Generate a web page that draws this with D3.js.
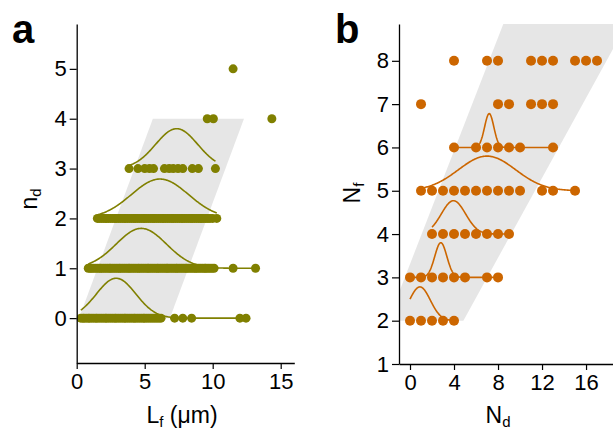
<!DOCTYPE html>
<html>
<head>
<meta charset="utf-8">
<script src="https://cdn.jsdelivr.net/npm/d3@7"></script>
<style>
  body { margin: 0; background: #fff; }
  svg text { font-family: "Liberation Sans", Arial, sans-serif; fill: #000; }
</style>
</head>
<body>
<svg id="chart" width="613" height="432"></svg>
<script>
// panel a: fibre length L_f vs number of defects n_d
const ndLevels = [0, 1, 2, 3, 4, 5];
const lfRows = [
  [0.3,0.45,0.55,0.7,0.85,0.95,1.1,1.25,1.4,1.5,1.65,1.8,1.95,2.1,2.2,2.35,2.5,2.65,2.8,2.9,3.05,3.2,3.35,3.5,3.6,3.75,3.9,4.05,4.2,4.3,4.45,4.6,4.75,4.9,5.0,5.15,5.3,5.45,5.6,5.75,5.9,6.05,6.2,7.2,7.8,8.45,12.0,12.45],
  [0.85,1.0,1.1,1.25,1.4,1.55,1.7,1.8,1.95,2.1,2.25,2.4,2.5,2.65,2.8,2.95,3.1,3.2,3.35,3.5,3.65,3.8,3.9,4.05,4.2,4.35,4.5,4.6,4.75,4.9,5.05,5.2,5.3,5.45,5.6,5.75,5.9,6.0,6.15,6.3,6.45,6.6,6.7,6.85,7.0,7.15,7.3,7.4,7.55,7.7,7.85,8.0,8.1,8.25,8.4,8.55,8.7,8.8,8.95,9.1,9.25,9.4,9.5,9.65,9.8,9.95,10.1,11.5,13.15],
  [1.52,1.65,1.8,1.95,2.1,2.2,2.35,2.5,2.65,2.8,2.9,3.05,3.2,3.35,3.5,3.6,3.75,3.9,4.05,4.2,4.3,4.45,4.6,4.75,4.9,5.0,5.15,5.3,5.45,5.6,5.7,5.85,6.0,6.15,6.3,6.4,6.55,6.7,6.85,7.0,7.1,7.25,7.4,7.55,7.7,7.8,7.95,8.1,8.25,8.4,8.5,8.65,8.8,8.95,9.1,9.2,9.35,9.5,9.65,9.8,10.0,10.3],
  [3.85,4.5,5.0,5.35,5.65,6.45,6.8,7.1,7.45,7.8,8.5,8.95,10.2],
  [9.6,10.05,14.35],
  [11.5]
];
// gaussian fits (rows 0-3)
const fitARows = [0, 1, 2, 3];
const fitACenter = [2.9, 4.75, 6.12, 7.35];
const fitASigma = [1.45, 1.85, 2.1, 1.55];
const fitAAmp = [0.8, 0.8, 0.79, 0.8];
// shaded band, corners [L_f, n_d]
const bandA = [[0.17, 0], [6.85, 0], [12.3, 4], [5.6, 4]];

// panel b: N_d vs N_f
const nfLevels = [2, 3, 4, 5, 6, 7, 8];
const ndRows = [
  [0, 1, 2, 3, 4],
  [0, 1, 2, 3, 4, 5, 7, 8],
  [2, 3, 4, 5, 6, 7, 8, 9],
  [1, 2, 3, 4, 5, 6, 7, 8, 9, 10, 12, 13, 15],
  [4, 6, 7, 8, 9, 10, 13],
  [1, 8, 9, 11, 12, 13],
  [4, 7, 8, 11, 12, 13, 15, 16, 17]
];
const fitBRows = [2, 3, 4, 5, 6];
const fitBCenter = [0.9, 2.8, 3.95, 7.0, 7.2];
const fitBSigma = [0.95, 0.55, 1.1, 2.6, 0.42];
const fitBAmp = [0.78, 0.8, 0.77, 0.8, 0.78];
const bandB = [[-2.0, 2], [4.85, 2], [19.7, 8.85], [8.48, 8.85]];

const olive = "#808000";
const orange = "#cc6600";
const band = "#e6e6e6";

const svg = d3.select("#chart");

function gauss(c, s, a) {
  return x => a * Math.exp(-((x - c) * (x - c)) / (2 * s * s));
}

function drawPanel(o) {
  let g = svg.append("g");
  let x = o.x, y = o.y;

  g.append("clipPath").attr("id", o.id + "clip")
    .append("rect")
    .attr("x", x.range()[0]).attr("y", y.range()[1])
    .attr("width", x.range()[1] - x.range()[0])
    .attr("height", y.range()[0] - y.range()[1]);

  let plot = g.append("g").attr("clip-path", `url(#${o.id}clip)`);

  plot.append("path")
    .attr("d", d3.line().x(d => x(d[0])).y(d => y(d[1]))(o.band) + "Z")
    .attr("fill", band);

  // fitted gaussians, drawn over the data range of each row
  o.fitRows.forEach((lev, i) => {
    let vals = o.rows[o.levels.indexOf(lev)];
    let f = gauss(o.center[i], o.sigma[i], o.amp[i]);
    let lo = d3.min(vals), hi = d3.max(vals);
    let xs = d3.range(0, 201).map(k => lo + (hi - lo) * k / 200);
    plot.append("path")
      .attr("d", d3.line().x(v => x(v)).y(v => y(lev + f(v)))(xs))
      .attr("fill", "none")
      .attr("stroke", o.color)
      .attr("stroke-width", 1.6);
  });

  o.levels.forEach((lev, i) => {
    plot.selectAll(null)
      .data(o.rows[i])
      .enter()
      .append("circle")
      .attr("cx", d => x(d))
      .attr("cy", y(lev))
      .attr("r", o.r)
      .attr("fill", o.color);
  });

  // axes with minor ticks
  let fmt = d3.format("d");
  let bottom = g.append("g").attr("transform", `translate(0,${y.range()[0]})`);
  bottom.call(d3.axisBottom(x).tickValues(o.xMinor).tickSize(3.5).tickFormat(""));
  bottom.call(d3.axisBottom(x).tickValues(o.xTicks).tickFormat(fmt).tickSize(6).tickPadding(4).tickSizeOuter(0));
  let left = g.append("g").attr("transform", `translate(${x.range()[0]},0)`);
  left.call(d3.axisLeft(y).tickValues(o.yMinor).tickSize(3.5).tickFormat(""));
  left.call(d3.axisLeft(y).tickValues(o.yTicks).tickFormat(fmt).tickSize(7).tickPadding(3).tickSizeOuter(0));

  g.selectAll(".domain").attr("stroke", "#000").attr("stroke-width", 1.3);
  g.selectAll(".tick line").attr("stroke", "#000").attr("stroke-width", 1.2);
  g.selectAll(".tick text").attr("font-size", 22).attr("fill", "#000")
    .style("font-family", "'Liberation Sans', Arial, sans-serif");
  return g;
}

const xA = d3.scaleLinear().domain([0, 16]).range([76.7, 294.3]);
const yA = d3.scaleLinear().domain([-0.9, 5.9]).range([363, 24]);
drawPanel({
  id: "a", x: xA, y: yA, band: bandA, levels: ndLevels, rows: lfRows,
  fitRows: fitARows, center: fitACenter, sigma: fitASigma, amp: fitAAmp,
  color: olive, r: 4.5,
  xTicks: [0, 5, 10, 15], xMinor: [2.5, 7.5, 12.5],
  yTicks: [0, 1, 2, 3, 4, 5], yMinor: [-0.5, 0.5, 1.5, 2.5, 3.5, 4.5, 5.5]
});

const xB = d3.scaleLinear().domain([-1, 18.45]).range([399, 613]);
const yB = d3.scaleLinear().domain([1, 8.85]).range([364, 24]);
drawPanel({
  id: "b", x: xB, y: yB, band: bandB, levels: nfLevels, rows: ndRows,
  fitRows: fitBRows, center: fitBCenter, sigma: fitBSigma, amp: fitBAmp,
  color: orange, r: 5,
  xTicks: [0, 4, 8, 12, 16], xMinor: [2, 6, 10, 14, 18],
  yTicks: [1, 2, 3, 4, 5, 6, 7, 8], yMinor: [1.5, 2.5, 3.5, 4.5, 5.5, 6.5, 7.5, 8.5]
});

// panel letters
svg.append("text").attr("x", 12).attr("y", 43).attr("font-size", 40)
  .attr("font-weight", "bold").text("a");
svg.append("text").attr("x", 335).attr("y", 43).attr("font-size", 40)
  .attr("font-weight", "bold").text("b");

// axis titles
function title(xp, yp, main, sub, rest, rot) {
  let t = svg.append("text")
    .attr("transform", `translate(${xp},${yp})` + (rot ? " rotate(-90)" : ""))
    .attr("text-anchor", "middle").attr("font-size", 23);
  t.append("tspan").text(main);
  t.append("tspan").attr("font-size", 15).attr("dy", 4).text(sub);
  if (rest) t.append("tspan").attr("dy", -4).text(rest);
}
title(182, 423, "L", "f", " (\u03bcm)", false);
title(37, 199, "n", "d", null, true);
title(360, 193, "N", "f", null, true);
title(498, 423, "N", "d", null, false);
</script>
</body>
</html>
